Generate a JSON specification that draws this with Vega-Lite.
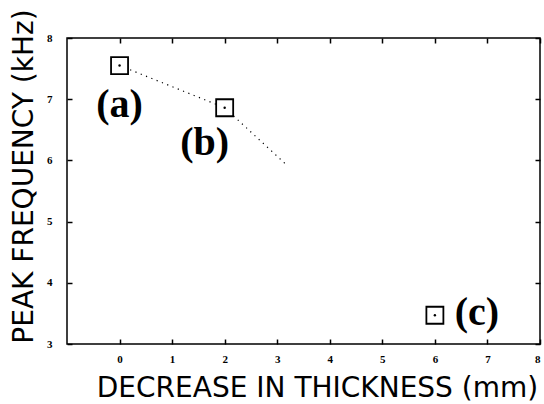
{
  "$schema": "https://vega.github.io/schema/vega-lite/v6.json",
  "width": 473,
  "height": 306,
  "autosize": {"type": "none"},
  "padding": {"left": 67, "top": 38, "right": 4, "bottom": 60},
  "background": "white",
  "config": {
    "view": {"stroke": "black", "strokeWidth": 1.5},
    "axis": {
      "grid": false,
      "domain": false,
      "labelColor": "black",
      "labelFont": "Liberation Serif",
      "labelFontWeight": "bold",
      "labelFontSize": 11,
      "titleColor": "black",
      "titleFont": "DejaVu Sans",
      "titleFontWeight": "normal",
      "titleFontSize": 28
    }
  },
  "resolve": {"axis": {"x": "independent", "y": "independent"}},
  "layer": [
    {
      "data": {"values": [
        {"thickness": 0, "freq": 7.55},
        {"thickness": 2, "freq": 6.86},
        {"thickness": 3.16, "freq": 5.94}
      ]},
      "mark": {"type": "line", "color": "black", "strokeWidth": 1.2, "strokeDash": [1.2, 4.5]},
      "encoding": {
        "x": {"field": "thickness", "type": "quantitative",
          "scale": {"domain": [-1, 8], "nice": false, "zero": false},
          "axis": {"orient": "bottom", "values": [0, 1, 2, 3, 4, 5, 6, 7, 8], "ticks": false, "labelPadding": 9,
            "title": "DECREASE IN THICKNESS (mm)", "titleX": 250, "titleY": 52,
            "titleAlign": "center", "titleBaseline": "alphabetic", "titleAnchor": null}},
        "y": {"field": "freq", "type": "quantitative",
          "scale": {"domain": [3, 8], "nice": false, "zero": false},
          "axis": {"orient": "left", "values": [3, 4, 5, 6, 7, 8], "ticks": false, "labelPadding": 15,
            "title": "PEAK FREQUENCY (kHz)", "titleX": -43, "titleY": 138, "titleAngle": 270,
            "titleAlign": "center", "titleBaseline": "middle"}}
      }
    },
    {
      "data": {"values": [
        {"thickness": 0, "freq": 7.55},
        {"thickness": 2, "freq": 6.86},
        {"thickness": 6, "freq": 3.47}
      ]},
      "mark": {"type": "point", "shape": "square", "size": 289, "filled": true, "fill": "white", "stroke": "black", "strokeWidth": 1.8, "opacity": 1},
      "encoding": {
        "x": {"field": "thickness", "type": "quantitative",
          "axis": {"orient": "top", "offset": -306, "ticks": true, "tickSize": 5, "tickColor": "black", "tickWidth": 1.5, "values": [0, 1, 2, 3, 4, 5, 6, 7, 8], "labels": false, "title": null}},
        "y": {"field": "freq", "type": "quantitative",
          "axis": {"orient": "right", "offset": -473, "ticks": true, "tickSize": 5, "tickColor": "black", "tickWidth": 1.5, "values": [3, 4, 5, 6, 7, 8], "labels": false, "title": null}}
      }
    },
    {
      "data": {"values": [
        {"thickness": 0, "freq": 7.55},
        {"thickness": 2, "freq": 6.86},
        {"thickness": 6, "freq": 3.47}
      ]},
      "mark": {"type": "point", "shape": "circle", "size": 6, "filled": true, "color": "black", "opacity": 1},
      "encoding": {
        "x": {"field": "thickness", "type": "quantitative",
          "axis": {"orient": "bottom", "offset": -306, "ticks": true, "tickSize": 5, "tickColor": "black", "tickWidth": 1.5, "values": [0, 1, 2, 3, 4, 5, 6, 7, 8], "labels": false, "title": null}},
        "y": {"field": "freq", "type": "quantitative",
          "axis": {"orient": "left", "offset": -473, "ticks": true, "tickSize": 5, "tickColor": "black", "tickWidth": 1.5, "values": [3, 4, 5, 6, 7, 8], "labels": false, "title": null}}
      }
    },
    {
      "data": {"values": [
        {"thickness": 0, "freq": 6.91, "label": "(a)"},
        {"thickness": 1.62, "freq": 6.28, "label": "(b)"},
        {"thickness": 6.8, "freq": 3.51, "label": "(c)"}
      ]},
      "mark": {"type": "text", "font": "Liberation Serif", "fontWeight": "bold", "fontSize": 40, "color": "black", "align": "center", "baseline": "middle"},
      "encoding": {
        "x": {"field": "thickness", "type": "quantitative", "axis": null},
        "y": {"field": "freq", "type": "quantitative", "axis": null},
        "text": {"field": "label", "type": "nominal"}
      }
    }
  ]
}
